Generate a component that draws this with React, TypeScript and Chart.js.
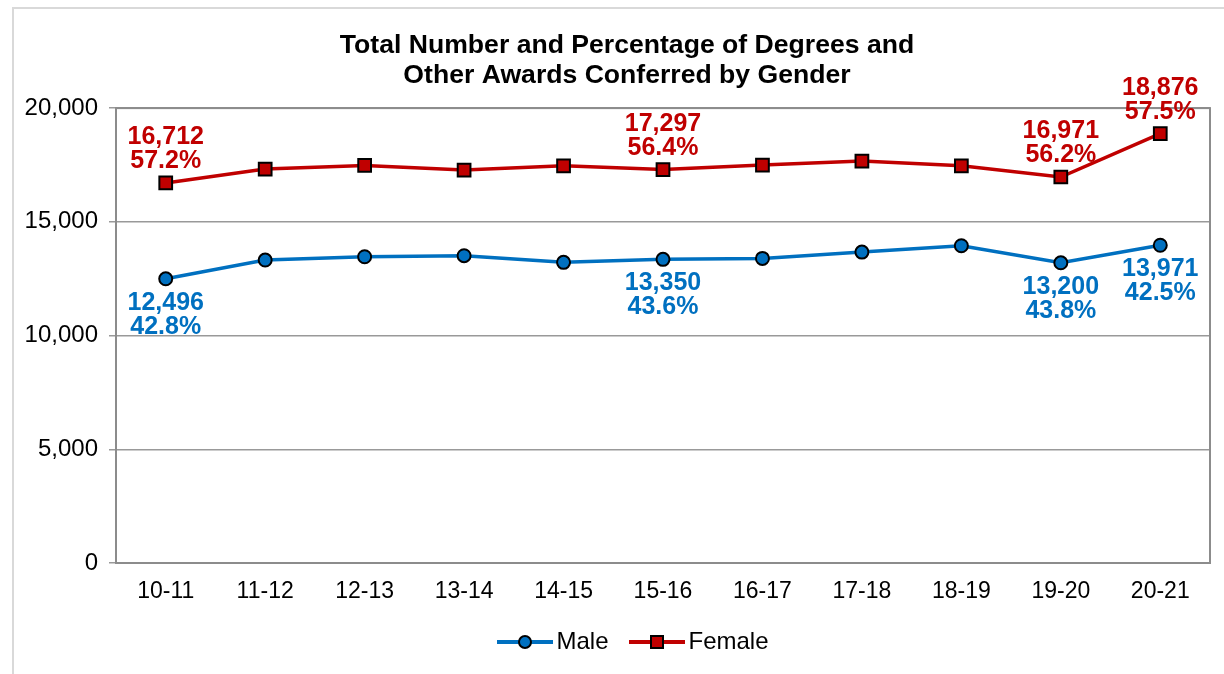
import React, { useEffect, useRef } from "react";
import { Chart, registerables } from "chart.js";

Chart.register(...registerables);

const years = ["10-11", "11-12", "12-13", "13-14", "14-15", "15-16", "16-17", "17-18", "18-19", "19-20", "20-21"];
const maleValues = [12496, 13319, 13465, 13510, 13218, 13350, 13392, 13670, 13948, 13200, 13971];
const femaleValues = [16712, 17319, 17480, 17275, 17465, 17297, 17495, 17670, 17465, 16971, 18876];
const labeledIndexes = [0, 5, 9, 10];
const malePct = ["42.8%", "43.6%", "43.8%", "42.5%"];
const femalePct = ["57.2%", "56.4%", "56.2%", "57.5%"];
const titleLines = ["Total Number and Percentage of Degrees and", "Other Awards Conferred by Gender"];

const MALE = "#0070C0";
const FEMALE = "#C00000";
const FONT = "'Liberation Sans', Arial, sans-serif";

function legendIcon(color: string, shape: "circle" | "square"): HTMLCanvasElement {
  // line + marker, placed right of the image centre so it sits where the reference draws it
  const c = document.createElement("canvas");
  c.width = 76;
  c.height = 20;
  const ctx = c.getContext("2d")!;
  ctx.strokeStyle = color;
  ctx.lineWidth = 4;
  ctx.beginPath();
  ctx.moveTo(20, 10);
  ctx.lineTo(76, 10);
  ctx.stroke();
  ctx.fillStyle = color;
  ctx.strokeStyle = "#000";
  ctx.lineWidth = 2;
  ctx.beginPath();
  if (shape === "circle") {
    ctx.arc(48, 10, 6, 0, Math.PI * 2);
  } else {
    ctx.rect(42, 4, 12, 12);
  }
  ctx.fill();
  ctx.stroke();
  return c;
}

const plotFrame = {
  id: "plotFrame",
  beforeDatasetsDraw(chart: any) {
    const { ctx, chartArea } = chart;
    ctx.save();
    ctx.strokeStyle = "#8c8c8c";
    ctx.lineWidth = 2;
    ctx.strokeRect(chartArea.left, chartArea.top, chartArea.right - chartArea.left, chartArea.bottom - chartArea.top);
    ctx.restore();
  },
};

const dataLabels = {
  id: "dataLabels",
  afterDatasetsDraw(chart: any) {
    const { ctx } = chart;
    ctx.save();
    ctx.font = `bold 25px ${FONT}`;
    ctx.textAlign = "center";
    ctx.textBaseline = "alphabetic";
    chart.data.datasets.forEach((ds: any, di: number) => {
      const meta = chart.getDatasetMeta(di);
      const isFemale = di === 1;
      ctx.fillStyle = isFemale ? FEMALE : MALE;
      labeledIndexes.forEach((idx, k) => {
        const pt = meta.data[idx];
        const num = (ds.data[idx] as number).toLocaleString("en-US");
        const pct = isFemale ? femalePct[k] : malePct[k];
        if (isFemale) {
          ctx.fillText(num, pt.x, pt.y - 15 - 24);
          ctx.fillText(pct, pt.x, pt.y - 15);
        } else {
          ctx.fillText(num, pt.x, pt.y + 31);
          ctx.fillText(pct, pt.x, pt.y + 31 + 24);
        }
      });
    });
    ctx.restore();
  },
};

export default function App() {
  const ref = useRef<HTMLCanvasElement | null>(null);

  useEffect(() => {
    if (!ref.current) return;
    const chart = new Chart(ref.current, {
      type: "line",
      data: {
        labels: years,
        datasets: [
          {
            label: "Male",
            data: maleValues,
            borderColor: MALE,
            backgroundColor: MALE,
            borderWidth: 3.5,
            pointStyle: "circle",
            pointRadius: 6.5,
            pointBorderColor: "#000",
            pointBorderWidth: 2,
            pointBackgroundColor: MALE,
            tension: 0,
          },
          {
            label: "Female",
            data: femaleValues,
            borderColor: FEMALE,
            backgroundColor: FEMALE,
            borderWidth: 3.5,
            pointStyle: "rect",
            pointRadius: 9,
            pointBorderColor: "#000",
            pointBorderWidth: 2,
            pointBackgroundColor: FEMALE,
            tension: 0,
          },
        ],
      },
      options: {
        responsive: false,
        animation: false,
        layout: { padding: { left: 0, right: 0, top: 0, bottom: 10 } },
        scales: {
          x: {
            offset: true,
            grid: { display: false, drawTicks: false },
            border: { display: false },
            ticks: { color: "#000", font: { family: FONT, size: 23 }, padding: 15 },
            afterFit: (s: any) => {
              s.height = 58;
            },
          },
          y: {
            min: 0,
            max: 20000,
            ticks: {
              stepSize: 5000,
              color: "#000",
              padding: 11,
              font: { family: FONT, size: 24 },
              callback: (v: any) => Number(v).toLocaleString("en-US"),
            },
            grid: { color: "#999999", lineWidth: 1.5, tickLength: 7, drawTicks: true },
            border: { display: false },
            afterFit: (s: any) => {
              s.width = 116;
            },
          },
          yRight: {
            type: "linear",
            position: "right",
            display: true,
            grid: { display: false, drawTicks: false },
            border: { display: false },
            ticks: { display: false },
            afterFit: (s: any) => {
              s.width = 44;
            },
          },
        },
        plugins: {
          title: {
            display: true,
            text: titleLines,
            color: "#000",
            font: { family: FONT, size: 26.6, weight: "bold", lineHeight: 1.13 },
            padding: { top: 31, bottom: 17 },
          },
          legend: {
            display: true,
            position: "bottom",
            labels: {
              usePointStyle: true,
              pointStyleWidth: 59,
              padding: 9,
              color: "#000",
              font: { family: FONT, size: 24 },
              generateLabels: (ch: any) =>
                ch.data.datasets.map((ds: any, i: number) => ({
                  text: ds.label,
                  pointStyle: legendIcon(i === 0 ? MALE : FEMALE, i === 0 ? "circle" : "square"),
                  fillStyle: ds.borderColor,
                  strokeStyle: ds.borderColor,
                  lineWidth: 0,
                  hidden: false,
                  datasetIndex: i,
                  fontColor: "#000",
                })),
            },
          },
          tooltip: { enabled: false },
        },
      },
      plugins: [plotFrame, dataLabels],
    });
    return () => chart.destroy();
  }, []);

  return (
    <div style={{ position: "absolute", left: 0, top: 0, width: 1224, height: 674, background: "#fff", overflow: "hidden" }}>
      <div style={{ position: "absolute", left: 12, top: 7, width: 1300, height: 800, borderLeft: "2px solid #d9d9d9", borderTop: "2px solid #d9d9d9" }} />
      <canvas ref={ref} width={1254} height={674} style={{ position: "absolute", left: 0, top: 0, width: 1254, height: 674 }} />
    </div>
  );
}
